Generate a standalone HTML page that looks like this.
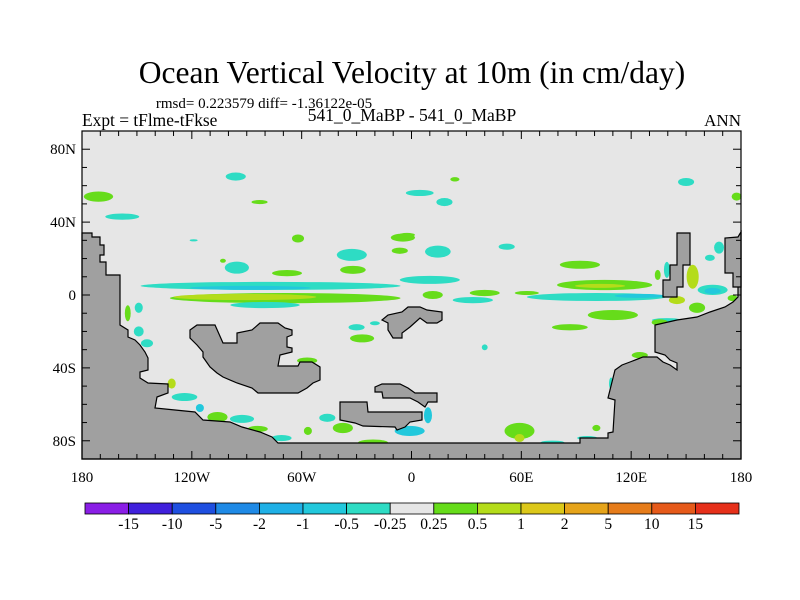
<!DOCTYPE html>
<html><head><meta charset="utf-8">
<style>
body{margin:0;background:#fff;}
svg{display:block;font-family:"Liberation Serif",serif;}
</style></head>
<body>
<svg id="chart" width="800" height="600" viewBox="0 0 800 600">
<text x="412" y="83" font-size="31.5" text-anchor="middle">Ocean Vertical Velocity at 10m (in cm/day)</text>
<text x="264" y="108" font-size="15" text-anchor="middle">rmsd= 0.223579 diff= -1.36122e-05</text>
<text x="82" y="126" font-size="17.4">Expt = tFlme-tFkse</text>
<text x="412" y="121" font-size="17.5" text-anchor="middle">541_0_MaBP - 541_0_MaBP</text>
<text x="741" y="126" font-size="17" text-anchor="end">ANN</text>
<rect x="82" y="131" width="659" height="328" fill="#e6e6e6"/>
<g id="blobs"></g>
<g id="land" fill="#a0a0a0" stroke="#000" stroke-width="1.2">
<polygon points="82,233 92,233 92,237 100,237 100,245 104,245 104,255 100,255 100,262 106,262 106,275 113,275 113,275 120,275 120,325 128,330 128,337 135,340 140,345 145,352 148,358 148,370 140,372 140,378 148,383 168,384 168,393 157,397 155,408 175,410 195,412 203,420 230,422 242,427 260,432 272,437 278,443 580,443 580,438 608,438 608,433 613,432 615,400 608,398 615,370 622,365 630,362 643,357 657,357 663,362 670,365 677,370 677,363 670,360 665,355 655,352 655,325 677,320 697,317 710,312 725,307 733,302 738,297 738,237 741,232 741,459 82,459"/>
<polygon points="741,232 738,237 725,238 725,273 733,273 733,287 741,287"/>
<polygon points="677,233 690,233 690,265 683,265 683,287 677,287 677,297 663,297 663,280 670,280 670,265 677,265"/>
<polygon points="190,330 197,325 215,325 223,343 237,343 237,333 252,330 260,323 278,323 285,328 292,330 292,335 287,337 287,347 292,348 292,352 280,355 278,366 298,366 300,362 312,362 320,367 320,380 313,383 307,388 298,393 258,393 252,388 237,383 223,377 217,373 210,367 203,357 203,352 197,345 190,338"/>
<polygon points="382,320 388,315 402,312 408,307 420,307 427,310 442,312 442,320 437,323 427,323 420,318 410,327 402,333 402,338 393,338 388,330 388,323"/>
<polygon points="375,387 382,384 400,384 408,388 415,393 437,393 437,402 428,402 425,407 418,402 410,398 383,398 382,392 375,392"/>
<polygon points="340,402 367,402 368,412 422,412 422,420 410,422 405,427 397,430 395,427 363,426 355,423 340,420"/>
</g>
<rect x="82" y="131" width="659" height="328" fill="none" stroke="#000" stroke-width="1.2"/>
<g id="axes"></g>
<g id="colorbar"></g>
</svg>
<script>
// contour blob data: lon, lat, half-width (deg), half-height (deg), value (cm/day)
const blobLon=[-96,-171,-158,-83,4.5,23.7,18,-62,-4.7,-32.6,14.4,-6.4,-32,-95.4,-68,-103,-119,-77,-88,-69,-91,-80,11.6,-149,-155,-149,-144.5,-30,-27,-20,-57,-131,-124,-115.6,-106,-92.6,-84,-71,-46,-56.6,-37.5,-21,-1,9,-2.5,92,52,10,40,63,33.5,101,124.7,105.5,103,110,86.5,40,59,59,77,101,109,124.7,96,153.6,164.5,164.5,145,156,139.5,134.5,168,163,175.4,139.5,135.6,177.6,150];
const blobLat=[65,54,43,51,56,63.5,51,31,31.5,22,23.8,24.3,13.8,15,12,18.8,30,5,3.9,-1.7,-1.1,-5.5,0,-7,-10,-20,-26.5,-17.7,-23.8,-15.5,-36,-48.6,-56,-62,-67,-68,-73.5,-78.5,-67.4,-74.6,-73,-81,-74.6,-66,33,16.6,26.5,8.3,1.1,1.1,-2.8,-1.1,-0.5,5.5,5,-11,-17.7,-28.7,-74.6,-78.5,-81,-73,-48.6,-33,-78.5,10,2.8,2.2,-2.8,-7,13.8,11,26,20.4,-1.7,-13.8,-15,54,62];
const blobW=[5.5,8,9.3,4.4,7.6,2.5,4.4,3.3,6.6,8.2,7,4.4,7,6.6,8.2,1.6,2.2,71,33,63,39,19,5.5,2.2,1.6,2.7,3.3,4.4,6.6,2.7,5.5,2.2,7,2.2,5.5,6.6,5.5,5.5,4.4,2.2,5.5,8.2,8.2,2.2,4.4,11,4.4,16.4,8.2,6.6,11,38,13.7,26,13.7,13.7,9.8,1.6,8.2,2.7,6.6,2.2,1.1,4.4,5.5,3.3,8.2,4.4,4.4,4.4,1.6,1.6,2.7,2.7,2.7,8.2,4.4,2.7,4.4];
const blobH=[2.2,2.8,1.7,1.1,1.7,1.2,2.2,2.2,2.2,3.3,3.3,1.7,2.2,3.3,1.7,1.1,0.6,2.2,1.1,2.8,1.7,1.7,2.2,2.8,4.4,2.8,2.2,1.7,2.2,1.1,1.7,2.8,2.2,2.2,2.8,2.2,1.7,1.7,2.2,2.2,2.8,1.7,2.8,4.4,1.1,2.2,1.7,2.2,1.7,1.1,1.7,2.2,1.1,2.8,1.1,2.8,1.7,1.6,4.4,2.2,1.1,1.7,3.3,1.7,1.1,6.6,2.8,1.7,2.2,2.8,4.4,2.8,3.3,1.7,1.7,1.1,1.7,2.2,2.2];
const blobVal=[-0.35,0.35,-0.35,0.35,-0.35,0.35,-0.35,0.35,0.35,-0.35,-0.35,0.35,0.35,-0.35,0.35,0.35,-0.35,-0.35,-0.7,0.35,0.7,-0.35,0.35,-0.35,0.35,-0.35,-0.35,-0.35,0.35,-0.35,0.35,0.7,-0.35,-0.7,0.35,-0.35,0.35,-0.35,-0.35,0.35,0.35,0.35,-0.7,-0.7,0.35,0.35,-0.35,-0.35,0.35,0.35,-0.35,-0.35,-0.7,0.35,0.7,0.35,0.35,-0.35,0.35,0.7,-0.35,0.35,-0.35,0.35,-0.35,0.7,-0.35,-0.7,0.7,0.35,-0.35,0.35,-0.35,-0.35,0.35,-0.35,0.35,0.35,-0.35];
// colorbar
const levels=["-15","-10","-5","-2","-1","-0.5","-0.25","0.25","0.5","1","2","5","10","15"];
const levelVals=[-15,-10,-5,-2,-1,-0.5,-0.25,0.25,0.5,1,2,5,10,15];
const levelColors=["#8a1ee6","#4020dc","#1f4fe0","#1f8ae6","#1fb0e6","#22c8dc","#2edcc4","#e6e6e6","#66dc1a","#b4dc1a","#dcc81a","#e6a41a","#e67c1a","#e65a1a","#e6301a"];
const xTickVals=[-180,-120,-60,0,60,120,180];
const xTickLabels=["180","120W","60W","0","60E","120E","180"];
const yTickVals=[80,40,0,-40,-80];
const yTickLabels=["80N","40N","0","40S","80S"];

const NS="http://www.w3.org/2000/svg";
const X0=82,X1=741,Y0=131,Y1=459;
const xs=lon=>X0+(lon+180)/360*(X1-X0);
const ys=lat=>Y0+(90-lat)/180*(Y1-Y0);
const pxPerLon=(X1-X0)/360, pxPerLat=(Y1-Y0)/180;
function colorFor(v){let i=0;while(i<levelVals.length&&v>levelVals[i])i++;return levelColors[i];}
function mk(tag,attrs,parent){const e=document.createElementNS(NS,tag);for(const k in attrs)e.setAttribute(k,attrs[k]);parent.appendChild(e);return e;}

const gB=document.getElementById('blobs');
for(let i=0;i<blobLon.length;i++){
  const e=mk('ellipse',{cx:xs(blobLon[i]),cy:ys(blobLat[i]),rx:blobW[i]*pxPerLon,ry:blobH[i]*pxPerLat,fill:colorFor(blobVal[i])},gB);
  
  
}

const gA=document.getElementById('axes');
for(let lon=-170;lon<180;lon+=10){
  const x=xs(lon), major=(lon%60===0);
  const L=major?8:5;
  const t1=mk('line',{x1:x,y1:Y0,x2:x,y2:Y0+L,stroke:'#000','stroke-width':1},gA);
  
  
  const t2=mk('line',{x1:x,y1:Y1,x2:x,y2:Y1-L,stroke:'#000','stroke-width':1},gA);
  
  
}
for(let lat=-80;lat<=80;lat+=10){
  const y=ys(lat), major=(lat%40===0);
  const L=major?8:5;
  const t1=mk('line',{x1:X0,y1:y,x2:X0+L,y2:y,stroke:'#000','stroke-width':1},gA);
  
  
  const t2=mk('line',{x1:X1,y1:y,x2:X1-L,y2:y,stroke:'#000','stroke-width':1},gA);
  
  
}
xTickVals.forEach((v,i)=>{
  const t=mk('text',{x:xs(v),y:Y1+23,'font-size':15,'text-anchor':'middle'},gA);
  t.textContent=xTickLabels[i];
  
  
});
yTickVals.forEach((v,i)=>{
  const t=mk('text',{x:X0-6,y:ys(v)+5,'font-size':15,'text-anchor':'end'},gA);
  t.textContent=yTickLabels[i];
  
  
});

const gC=document.getElementById('colorbar');
const CB0=85,CB1=739,CBy=503,CBh=11;
const bw=(CB1-CB0)/levelColors.length;
levelColors.forEach((c,i)=>{
  const r=mk('rect',{x:CB0+i*bw,y:CBy,width:bw,height:CBh,fill:c,stroke:'#000','stroke-width':0.8},gC);
  
  
});
levels.forEach((l,i)=>{
  const t=mk('text',{x:CB0+(i+1)*bw,y:529,'font-size':15.5,'text-anchor':'middle'},gC);
  t.textContent=l;
  
  
});
</script>
</body></html>
